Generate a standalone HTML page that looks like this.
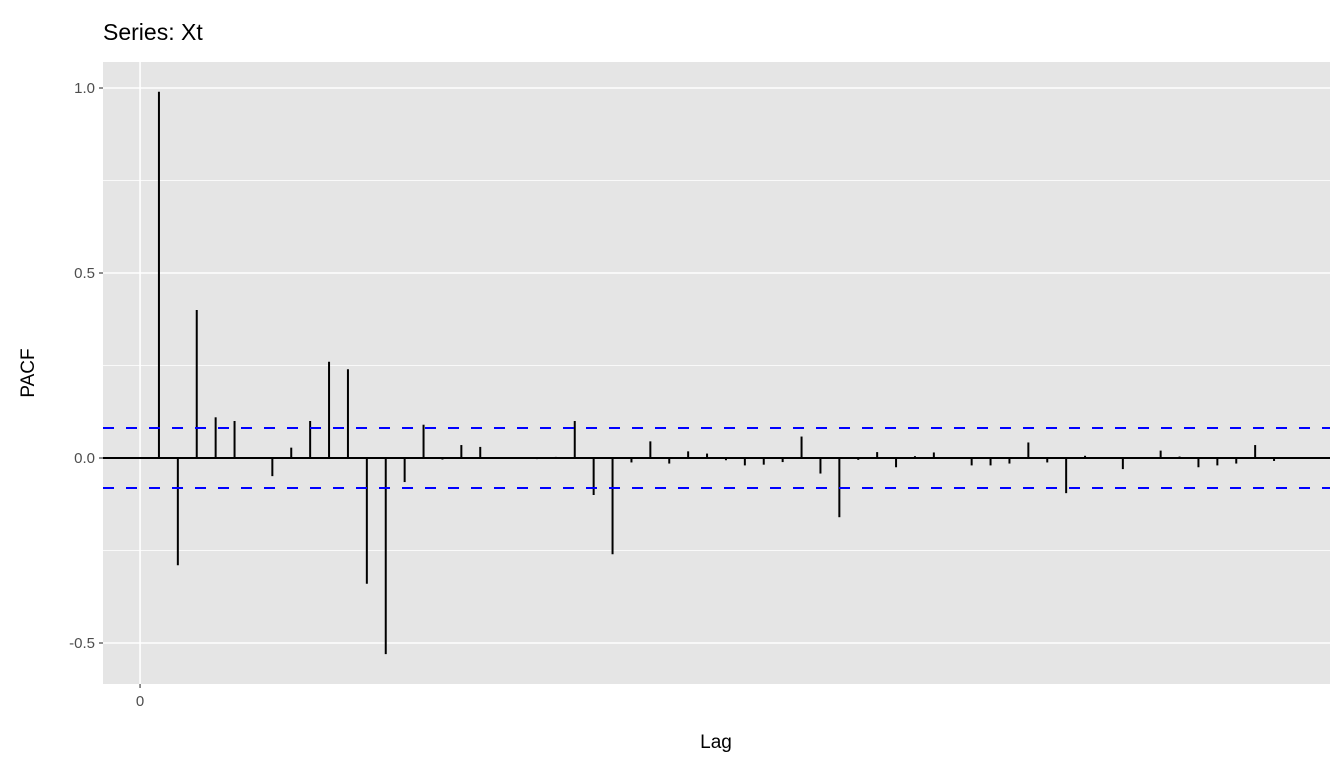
<!DOCTYPE html>
<html><head><meta charset="utf-8"><style>
body{margin:0;background:#fff;}
svg{display:block;font-family:"Liberation Sans",Arial,sans-serif;}
</style></head><body>
<svg id="chart" width="1344" height="768" xmlns="http://www.w3.org/2000/svg">
<text x="103" y="40" font-size="23" fill="#000">Series: Xt</text>
<rect x="103" y="62" width="1227" height="622" fill="#e5e5e5"/>
<g id="grid"></g>
<g id="marks"></g>
<g id="axes"></g>
<text transform="translate(34,373) rotate(-90)" text-anchor="middle" font-size="19" fill="#000">PACF</text>
<text x="716" y="748" text-anchor="middle" font-size="19" fill="#000">Lag</text>
</svg>
<script>
const lags = [];
for (let i = 1; i <= 60; i++) lags.push(i);
const pacf = [0.99,-0.29,0.40,0.11,0.10,0.0,-0.049,0.028,0.10,0.26,0.24,-0.34,-0.53,-0.065,0.09,-0.004,0.035,0.03,0.0,0.0,-0.003,0.003,0.10,-0.10,-0.26,-0.012,0.045,-0.015,0.018,0.012,-0.006,-0.02,-0.018,-0.011,0.058,-0.042,-0.16,-0.005,0.016,-0.025,0.005,0.015,0.0,-0.02,-0.02,-0.015,0.042,-0.012,-0.095,0.006,0.0,-0.03,0.0,0.02,0.004,-0.025,-0.02,-0.015,0.035,-0.008];
const ci = [0.081, -0.081];
const yTicks = [1.0, 0.5, 0.0, -0.5];
const yMinor = [0.75, 0.25, -0.25];
const xTicks = [0];

const X0=103, X1=1330, Y0=62, Y1=684;
const xDom=[-1.96, 62.96], yDom=[-0.6108, 1.0703];
const xs = v => X0 + (v - xDom[0]) / (xDom[1] - xDom[0]) * (X1 - X0);
const ys = v => Y1 - (v - yDom[0]) / (yDom[1] - yDom[0]) * (Y1 - Y0);
const NS='http://www.w3.org/2000/svg';
function mk(tag, attrs, parent){const e=document.createElementNS(NS,tag);for(const k in attrs)e.setAttribute(k,attrs[k]);parent.appendChild(e);return e;}
const grid=document.getElementById('grid'), marks=document.getElementById('marks'), axes=document.getElementById('axes');

yMinor.forEach(v=>{
  const l=mk('line',{x1:X0,x2:X1,y1:ys(v),y2:ys(v),stroke:'#fff','stroke-width':0.8},grid);
  
  
});
yTicks.forEach(v=>{
  const l=mk('line',{x1:X0,x2:X1,y1:ys(v),y2:ys(v),stroke:'#fff','stroke-width':1.6},grid);
  
  
  const t=mk('line',{x1:X0-4,x2:X0,y1:ys(v),y2:ys(v),stroke:'#333','stroke-width':1.1},axes);
  
  
  const tx=mk('text',{x:X0-8,y:ys(v)+5,'text-anchor':'end','font-size':15,fill:'#4d4d4d'},axes);
  tx.textContent=v.toFixed(1);
  
  
});
xTicks.forEach(v=>{
  const l=mk('line',{x1:xs(v),x2:xs(v),y1:Y0,y2:Y1,stroke:'#fff','stroke-width':1.6},grid);
  
  
  const t=mk('line',{x1:xs(v),x2:xs(v),y1:Y1,y2:Y1+4,stroke:'#333','stroke-width':1.1},axes);
  
  
  const tx=mk('text',{x:xs(v),y:Y1+22,'text-anchor':'middle','font-size':15,fill:'#4d4d4d'},axes);
  tx.textContent=String(v);
  
  
});
lags.forEach((k,i)=>{
  const l=mk('line',{x1:xs(k),x2:xs(k),y1:ys(0),y2:ys(pacf[i]),stroke:'#000','stroke-width':2},marks);
  
  
});
const z=mk('line',{x1:X0,x2:X1,y1:ys(0),y2:ys(0),stroke:'#000','stroke-width':2},marks);


ci.forEach(v=>{
  const l=mk('line',{x1:X0,x2:X1,y1:ys(v),y2:ys(v),stroke:'#0000ff','stroke-width':2,'stroke-dasharray':'11 12'},marks);
  
  
});
</script>
</body></html>
